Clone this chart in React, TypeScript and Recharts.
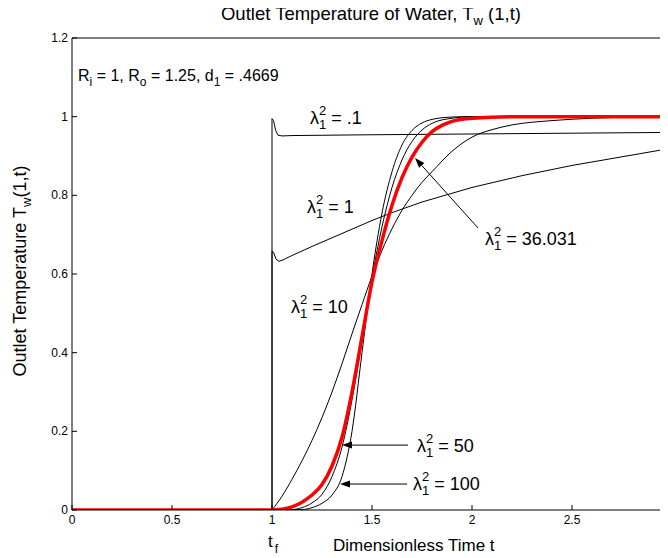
import React from "react";
import { LineChart, Line, XAxis, YAxis, ReferenceLine, ReferenceDot } from "recharts";

const FONT = "'Liberation Sans', Arial, Helvetica, sans-serif";

const xTicks = [0, 0.5, 1, 1.5, 2, 2.5, 3];
const yTicks = [0, 0.2, 0.4, 0.6, 0.8, 1, 1.2];

// [t, T_w] pairs
const lam01 = [
  [0, 0], [1, 0], [1, 0.995], [1.008, 0.99], [1.018, 0.965], [1.03, 0.953], [1.05, 0.951],
  [1.1, 0.952], [1.5, 0.954], [2, 0.956], [2.5, 0.958], [3, 0.96],
];
const lam1 = [
  [0, 0], [1, 0], [1, 0.658], [1.008, 0.655], [1.02, 0.638], [1.035, 0.632], [1.06, 0.637],
  [1.1, 0.647], [1.2, 0.67], [1.3, 0.692], [1.4, 0.714], [1.5, 0.736], [1.6, 0.756],
  [1.75, 0.783], [2, 0.82], [2.25, 0.85], [2.5, 0.876], [2.75, 0.898], [3, 0.92],
];
const lam10 = [
  [1, 0], [1.05, 0.035], [1.1, 0.078], [1.15, 0.125], [1.2, 0.177], [1.25, 0.235], [1.3, 0.3],
  [1.35, 0.372], [1.4, 0.448], [1.45, 0.522], [1.5, 0.595], [1.55, 0.66], [1.6, 0.715],
  [1.65, 0.762], [1.7, 0.8], [1.75, 0.833], [1.8, 0.86], [1.9, 0.912], [2, 0.948],
  [2.1, 0.967], [2.2, 0.979], [2.4, 0.99], [2.6, 0.996], [2.8, 0.999], [3, 1],
];
const lam36 = [
  [0, 0], [1, 0], [1.05, 0.002], [1.1, 0.008], [1.15, 0.02], [1.2, 0.038], [1.25, 0.065],
  [1.3, 0.112], [1.35, 0.185], [1.4, 0.3], [1.45, 0.44], [1.5, 0.58], [1.55, 0.685],
  [1.6, 0.775], [1.65, 0.845], [1.7, 0.897], [1.75, 0.935], [1.8, 0.962], [1.85, 0.978],
  [1.9, 0.988], [2, 0.996], [2.2, 1], [3, 1],
];
const lam50 = [
  [1, 0], [1.1, 0.001], [1.15, 0.006], [1.2, 0.018], [1.25, 0.04], [1.3, 0.085], [1.35, 0.16],
  [1.4, 0.28], [1.45, 0.43], [1.5, 0.59], [1.55, 0.72], [1.6, 0.82], [1.65, 0.89],
  [1.7, 0.937], [1.75, 0.966], [1.8, 0.983], [1.9, 0.996], [2, 1], [3, 1],
];
const lam100 = [
  [1, 0], [1.15, 0.001], [1.2, 0.006], [1.25, 0.017], [1.3, 0.038], [1.35, 0.085], [1.4, 0.2],
  [1.45, 0.4], [1.5, 0.6], [1.55, 0.755], [1.6, 0.86], [1.65, 0.928], [1.7, 0.965],
  [1.75, 0.984], [1.8, 0.993], [1.9, 0.999], [2, 1], [3, 1],
];

const toPts = (a: number[][]) => a.map(([t, v]) => ({ t, v }));

const BottomTick = (p: any) => (
  <g>
    <line x1={p.x} y1={p.y} x2={p.x} y2={p.y - 5} stroke="#000" />
    {p.payload.value < 3 && (
      <text x={p.x} y={p.y + 14} textAnchor="middle" fontSize={12} fontFamily={FONT} fill="#000">
        {p.payload.value}
      </text>
    )}
  </g>
);
const TopTick = (p: any) => <line x1={p.x} y1={p.y} x2={p.x} y2={p.y + 5} stroke="#000" />;
const LeftTick = (p: any) => (
  <g>
    <line x1={p.x} y1={p.y} x2={p.x + 5} y2={p.y} stroke="#000" />
    <text x={p.x - 4} y={p.y + 4} textAnchor="end" fontSize={12} fontFamily={FONT} fill="#000">
      {p.payload.value}
    </text>
  </g>
);
const RightTick = (p: any) => <line x1={p.x} y1={p.y} x2={p.x - 7} y2={p.y} stroke="#000" />;

const lamLabel = (val: string) => (p: any) => (
  <text x={p.cx} y={p.cy} fontSize={18} fontFamily={FONT} fill="#000">
    λ<tspan dy={5} fontSize={13}>1</tspan>
    <tspan dx={-7.2} dy={-14} fontSize={13}>2</tspan>
    <tspan dy={9}>{` = ${val}`}</tspan>
  </text>
);

const paramLabel = (p: any) => (
  <text x={p.cx} y={p.cy} fontSize={16} fontFamily={FONT} fill="#000">
    R<tspan dy={5} fontSize={12}>i</tspan>
    <tspan dy={-5}>{" = 1, R"}</tspan>
    <tspan dy={5} fontSize={12}>o</tspan>
    <tspan dy={-5}>{" = 1.25, d"}</tspan>
    <tspan dy={5} fontSize={12}>1</tspan>
    <tspan dy={-5}>{" = .4669"}</tspan>
  </text>
);

const tfLabel = (p: any) => (
  <text x={p.cx - 4} y={p.cy + 37} fontSize={17} fontFamily={FONT} fill="#000">
    t<tspan dx={2} dy={6} fontSize={12}>f</tspan>
  </text>
);

const arrow = (p: any) => {
  const { x1, y1, x2, y2 } = p;
  const a = Math.atan2(y2 - y1, x2 - x1);
  const L = 10, W = 3.5;
  const bx = x2 - L * Math.cos(a), by = y2 - L * Math.sin(a);
  const nx = -Math.sin(a) * W, ny = Math.cos(a) * W;
  return (
    <g>
      <line x1={x1} y1={y1} x2={bx} y2={by} stroke="#000" strokeWidth={1} />
      <polygon points={`${x2},${y2} ${bx + nx},${by + ny} ${bx - nx},${by - ny}`} fill="#000" />
    </g>
  );
};

const subStyle: React.CSSProperties = { fontSize: 13, position: "relative", top: 5 };

export default function App() {
  return (
    <div style={{ position: "relative", width: 660, height: 558, marginTop: -8, overflow: "hidden", fontFamily: FONT }}>
      <div style={{ position: "absolute", left: 363, top: 5, transform: "translateX(-50%)", fontSize: 18.5, lineHeight: 1, whiteSpace: "nowrap" }}>
        Outlet Temperature of Water, T<span style={subStyle}>w</span> (1,t)
      </div>
      <div
        style={{
          position: "absolute", left: 12, top: 271, fontSize: 18, lineHeight: 1, whiteSpace: "nowrap",
          transform: "translate(-50%, -50%) rotate(-90deg)",
        }}
      >
        Outlet Temperature T<span style={subStyle}>w</span>(1,t)
      </div>
      <div style={{ position: "absolute", left: 325, top: 537, fontSize: 17, lineHeight: 1, whiteSpace: "nowrap" }}>
        Dimensionless Time t
      </div>
      <LineChart width={680} height={558} margin={{ top: 37, right: 15, bottom: 28, left: 24 }}>
        <XAxis dataKey="t" type="number" domain={[0, 3]} ticks={xTicks} interval={0} height={20}
          tickSize={0} tickMargin={0} tickLine={false} tick={<BottomTick />} axisLine={{ stroke: "#000" }} allowDataOverflow />
        <XAxis xAxisId="top" orientation="top" type="number" domain={[0, 3]} ticks={xTicks} interval={0} height={1}
          tickSize={0} tickMargin={0} tickLine={false} tick={<TopTick />} axisLine={{ stroke: "#000" }} allowDataOverflow />
        <YAxis type="number" domain={[0, 1.2]} ticks={yTicks} interval={0} width={40}
          tickSize={0} tickMargin={0} tickLine={false} tick={<LeftTick />} axisLine={{ stroke: "#000" }} allowDataOverflow />
        <YAxis yAxisId="right" orientation="right" type="number" domain={[0, 1.2]} ticks={yTicks} interval={0} width={1}
          tickSize={0} tickMargin={0} tickLine={false} tick={<RightTick />} axisLine={{ stroke: "#000" }} allowDataOverflow />

        <Line data={toPts(lam01)} dataKey="v" type="linear" stroke="#000" strokeWidth={1} dot={false} isAnimationActive={false} />
        <Line data={toPts(lam1)} dataKey="v" type="linear" stroke="#000" strokeWidth={1} dot={false} isAnimationActive={false} />
        <Line data={toPts(lam10)} dataKey="v" type="monotone" stroke="#000" strokeWidth={1} dot={false} isAnimationActive={false} />
        <Line data={toPts(lam50)} dataKey="v" type="monotone" stroke="#000" strokeWidth={1} dot={false} isAnimationActive={false} />
        <Line data={toPts(lam100)} dataKey="v" type="monotone" stroke="#000" strokeWidth={1} dot={false} isAnimationActive={false} />
        <Line data={toPts(lam36)} dataKey="v" type="monotone" stroke="#ff0000" strokeWidth={3.5} dot={false} isAnimationActive={false} />

        <ReferenceLine segment={[{ x: 2.03, y: 0.717 }, { x: 1.715, y: 0.895 }]} shape={arrow} />
        <ReferenceLine segment={[{ x: 1.68, y: 0.165 }, { x: 1.35, y: 0.165 }]} shape={arrow} />
        <ReferenceLine segment={[{ x: 1.675, y: 0.066 }, { x: 1.34, y: 0.066 }]} shape={arrow} />

        <ReferenceDot x={0.03} y={1.091} shape={paramLabel} />
        <ReferenceDot x={1.19} y={0.982} shape={lamLabel(".1")} />
        <ReferenceDot x={1.175} y={0.755} shape={lamLabel("1")} />
        <ReferenceDot x={1.095} y={0.5} shape={lamLabel("10")} />
        <ReferenceDot x={2.065} y={0.674} shape={lamLabel("36.031")} />
        <ReferenceDot x={1.725} y={0.147} shape={lamLabel("50")} />
        <ReferenceDot x={1.705} y={0.051} shape={lamLabel("100")} />
        <ReferenceDot x={1} y={0} shape={tfLabel} />
      </LineChart>
    </div>
  );
}
